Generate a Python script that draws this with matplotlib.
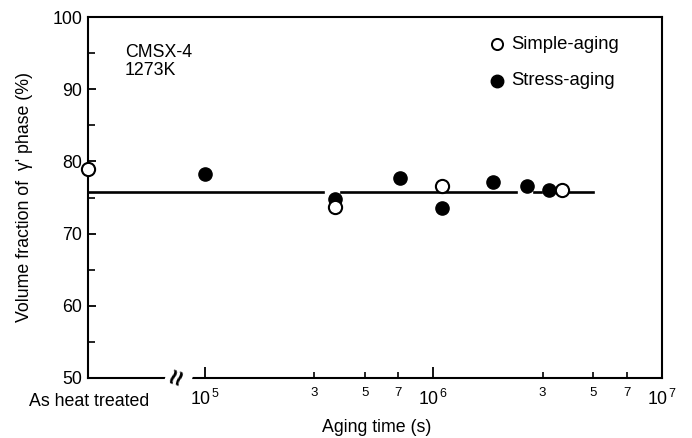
import numpy as np
import matplotlib
matplotlib.use("Agg")
import matplotlib.pyplot as plt
from matplotlib.ticker import FixedLocator, NullFormatter

plt.rcParams['font.family'] = ['Liberation Sans', 'DejaVu Sans']
plt.rcParams['mathtext.default'] = 'regular'

# Data
x_left = 10 ** 4.488            # "As heat treated" position on the axis
simple_x = [x_left, 3.7e5, 1.09e6, 3.65e6]
simple_y = [78.9, 73.7, 76.6, 76.1]
stress_x = [1.0e5, 3.7e5, 7.1e5, 1.09e6, 1.82e6, 2.57e6, 3.2e6]
stress_y = [78.3, 74.8, 77.7, 73.5, 77.2, 76.6, 76.1]
fit_level = 75.8
fit_segments = [(x_left, 3.3e5), (3.95e5, 2.3e6), (2.75e6, 2.95e6), (3.3e6, 5.0e6)]

FS = 12.8

fig = plt.figure(figsize=(6.92, 4.38), dpi=100)
ax = fig.add_axes([88/692, 1-378/438, (662-88)/692, (378-17)/438])
ax.set_xscale('log')
ax.set_xlim(x_left, 1e7)
ax.set_ylim(50, 100)

for a, b in fit_segments:
    ax.plot([a, b], [fit_level, fit_level], color='black', lw=1.9, zorder=2)

ax.plot(stress_x, stress_y, 'o', ms=9.5, mfc='black', mec='black', zorder=3, clip_on=False)
ax.plot(simple_x, simple_y, 'o', ms=9.5, mfc='white', mec='black', mew=1.5, zorder=4, clip_on=False)

for s in ax.spines.values():
    s.set_linewidth(1.5)

# ticks
ax.xaxis.set_major_locator(FixedLocator([1e5, 1e6, 1e7]))
ax.set_xticklabels([r'$10^{\,5}$', r'$10^{\,6}$', r'$10^{\,7}$'])
minor = [3e5, 5e5, 7e5, 3e6, 5e6, 7e6]
ax.xaxis.set_minor_locator(FixedLocator(minor))
ax.xaxis.set_minor_formatter(NullFormatter())
ax.tick_params(axis='x', which='major', direction='in', length=8, width=1.3, labelsize=FS, pad=8)
ax.tick_params(axis='x', which='minor', direction='in', length=4, width=1.2)
for xm, lab in zip(minor, ['3', '5', '7', '3', '5', '7']):
    ax.text(xm, 48.8, lab, ha='center', va='top', fontsize=9.5, transform=ax.transData)

ax.set_yticks([50, 60, 70, 80, 90, 100])
ax.set_yticks([55, 65, 75, 85, 95], minor=True)
ax.tick_params(axis='y', which='major', direction='in', length=6, width=1.3, labelsize=FS, pad=4)
ax.tick_params(axis='y', which='minor', direction='in', length=5, width=1.2)

ax.text(x_left * 1.01, 47.9, 'As heat treated', ha='center', va='top', fontsize=FS)

# axis break
ax.text(10 ** 4.885, 50, '≈', rotation=72, ha='center', va='center', fontsize=20,
        fontweight='bold',
        bbox=dict(boxstyle='square,pad=0.0', fc='white', ec='none'), zorder=5, clip_on=False)

ax.set_xlabel('Aging time (s)', fontsize=FS)
ax.xaxis.set_label_coords((377-88)/574, (378-428)/361)
ax.xaxis.label.set_va('center')
ax.set_ylabel("Volume fraction of  γ' phase (%)", fontsize=FS)
ax.yaxis.set_label_coords((25-88)/574, 0.5)
ax.yaxis.label.set_va('center')

ax.text(0.064, 0.925, 'CMSX-4\n1273K', transform=ax.transAxes, fontsize=FS, va='top', ha='left',
        linespacing=1.05)

# legend
ax.plot([0.712], [0.925], 'o', transform=ax.transAxes, ms=8, mfc='white', mec='black', mew=1.4)
ax.text(0.737, 0.925, 'Simple-aging', transform=ax.transAxes, fontsize=13.3, va='center')
ax.plot([0.712], [0.823], 'o', transform=ax.transAxes, ms=9, mfc='black', mec='black')
ax.text(0.737, 0.823, 'Stress-aging', transform=ax.transAxes, fontsize=13.3, va='center')

fig.savefig('out.png', dpi=100)
